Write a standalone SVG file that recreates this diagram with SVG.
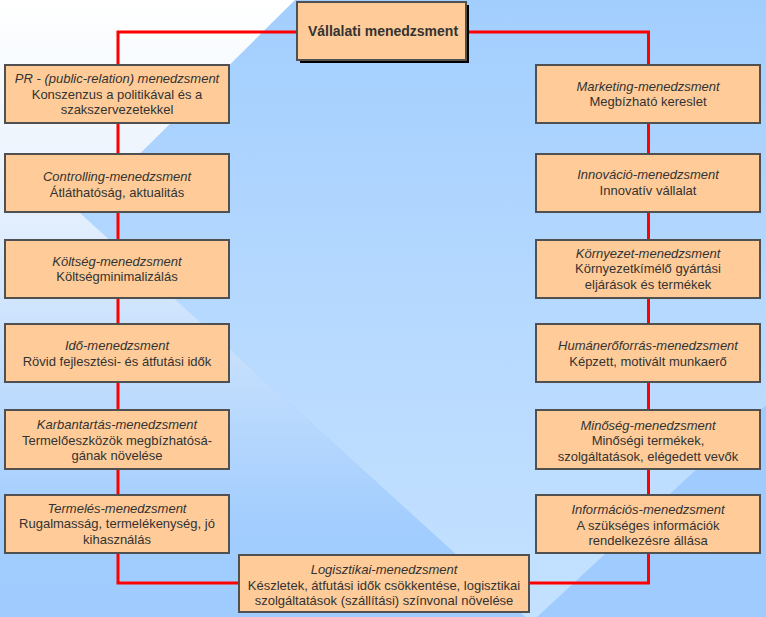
<svg xmlns="http://www.w3.org/2000/svg" width="766" height="617" viewBox="0 0 766 617">
<defs>
<linearGradient id="gLeft" x1="0" y1="0" x2="0" y2="617" gradientUnits="userSpaceOnUse">
<stop offset="0" stop-color="#ffffff"/>
<stop offset="0.3" stop-color="#e9f2fd"/>
<stop offset="0.55" stop-color="#c9e1fd"/>
<stop offset="0.85" stop-color="#a2cdfe"/>
<stop offset="1" stop-color="#9fcbfe"/>
</linearGradient>
<linearGradient id="gMid" x1="0" y1="0" x2="0" y2="617" gradientUnits="userSpaceOnUse">
<stop offset="0" stop-color="#a2cefe"/>
<stop offset="0.5" stop-color="#b6d9ff"/>
<stop offset="1" stop-color="#c4e1ff"/>
</linearGradient>
<style>
.box{fill:#ffcc99;stroke:#505050;stroke-width:2}
.t{font-family:"Liberation Sans",Arial,sans-serif;font-size:13px;fill:#333333;text-anchor:middle}
.h{font-style:italic}
.title{font-family:"Liberation Sans",Arial,sans-serif;font-size:14px;font-weight:bold;fill:#333333;text-anchor:middle}
.conn{fill:none;stroke:#ff0000;stroke-width:3}
</style>
</defs>
<g id="background">
<rect x="0" y="0" width="766" height="617" fill="#9fcbfe"/>
<polygon points="295,0 766,0 766,405 537,617 525,617 80,213" fill="url(#gMid)"/>
<polygon points="0,0 295,0 80,213 525,617 0,617" fill="url(#gLeft)"/>
</g>
<g id="connectors">
<path class="conn" d="M239,583 H118 V32 H297"/>
<path class="conn" d="M466,32 H648.5 V583 H529"/>
</g>
<g id="vallalati">
<rect x="300" y="5" width="169" height="58" fill="#000000"/>
<rect class="box" x="297" y="2" width="169" height="58"/>
<text class="title" x="383" y="36">Vállalati menedzsment</text>
</g>
<g id="pr">
<rect class="box" x="5" y="65" width="224" height="58"/>
<text class="t" x="117" y="82.5"><tspan class="h">PR - (public-relation) menedzsment</tspan><tspan x="117" y="98.5">Konszenzus a politikával és a</tspan><tspan x="117" y="113.5">szakszervezetekkel</tspan></text>
</g>
<g id="controlling">
<rect class="box" x="5" y="154" width="224" height="58"/>
<text class="t" x="117" y="180.5"><tspan class="h">Controlling-menedzsment</tspan><tspan x="117" y="196.5">Átláthatóság, aktualitás</tspan></text>
</g>
<g id="koltseg">
<rect class="box" x="5" y="240" width="224" height="58"/>
<text class="t" x="117" y="265.5"><tspan class="h">Költség-menedzsment</tspan><tspan x="117" y="280.5">Költségminimalizálás</tspan></text>
</g>
<g id="ido">
<rect class="box" x="5" y="324" width="224" height="58"/>
<text class="t" x="117" y="350"><tspan class="h">Idő-menedzsment</tspan><tspan x="117" y="366">Rövid fejlesztési- és átfutási idők</tspan></text>
</g>
<g id="karbantartas">
<rect class="box" x="5" y="410" width="224" height="59"/>
<text class="t" x="117" y="429"><tspan class="h">Karbantartás-menedzsment</tspan><tspan x="117" y="444.5">Termelőeszközök megbízhatósá-</tspan><tspan x="117" y="460">gának növelése</tspan></text>
</g>
<g id="termeles">
<rect class="box" x="5" y="495" width="224" height="58"/>
<text class="t" x="117" y="513"><tspan class="h">Termelés-menedzsment</tspan><tspan x="117" y="528">Rugalmasság, termelékenység, jó</tspan><tspan x="117" y="543.5">kihasználás</tspan></text>
</g>
<g id="marketing">
<rect class="box" x="536" y="65" width="224" height="58"/>
<text class="t" x="648" y="90.5"><tspan class="h">Marketing-menedzsment</tspan><tspan x="648" y="105.5">Megbízható kereslet</tspan></text>
</g>
<g id="innovacio">
<rect class="box" x="536" y="154" width="224" height="58"/>
<text class="t" x="648" y="179"><tspan class="h">Innováció-menedzsment</tspan><tspan x="648" y="195">Innovatív vállalat</tspan></text>
</g>
<g id="kornyezet">
<rect class="box" x="536" y="240" width="224" height="58"/>
<text class="t" x="648" y="258"><tspan class="h">Környezet-menedzsment</tspan><tspan x="648" y="273">Környezetkímélő gyártási</tspan><tspan x="648" y="289">eljárások és termékek</tspan></text>
</g>
<g id="human">
<rect class="box" x="536" y="324" width="224" height="58"/>
<text class="t" x="648" y="349.5"><tspan class="h">Humánerőforrás-menedzsment</tspan><tspan x="648" y="366">Képzett, motivált munkaerő</tspan></text>
</g>
<g id="minoseg">
<rect class="box" x="536" y="410" width="224" height="59"/>
<text class="t" x="648" y="429.5"><tspan class="h">Minőség-menedzsment</tspan><tspan x="648" y="445">Minőségi termékek,</tspan><tspan x="648" y="461">szolgáltatások, elégedett vevők</tspan></text>
</g>
<g id="informacios">
<rect class="box" x="536" y="495" width="224" height="58"/>
<text class="t" x="648" y="514"><tspan class="h">Információs-menedzsment</tspan><tspan x="648" y="529.5">A szükséges információk</tspan><tspan x="648" y="544.5">rendelkezésre állása</tspan></text>
</g>
<g id="logisztikai">
<rect class="box" x="239" y="555" width="290" height="57"/>
<text class="t" x="384" y="574"><tspan class="h">Logisztikai-menedzsment</tspan><tspan x="384" y="589.5">Készletek, átfutási idők csökkentése, logisztikai</tspan><tspan x="384" y="605">szolgáltatások (szállítási) színvonal növelése</tspan></text>
</g>
</svg>
